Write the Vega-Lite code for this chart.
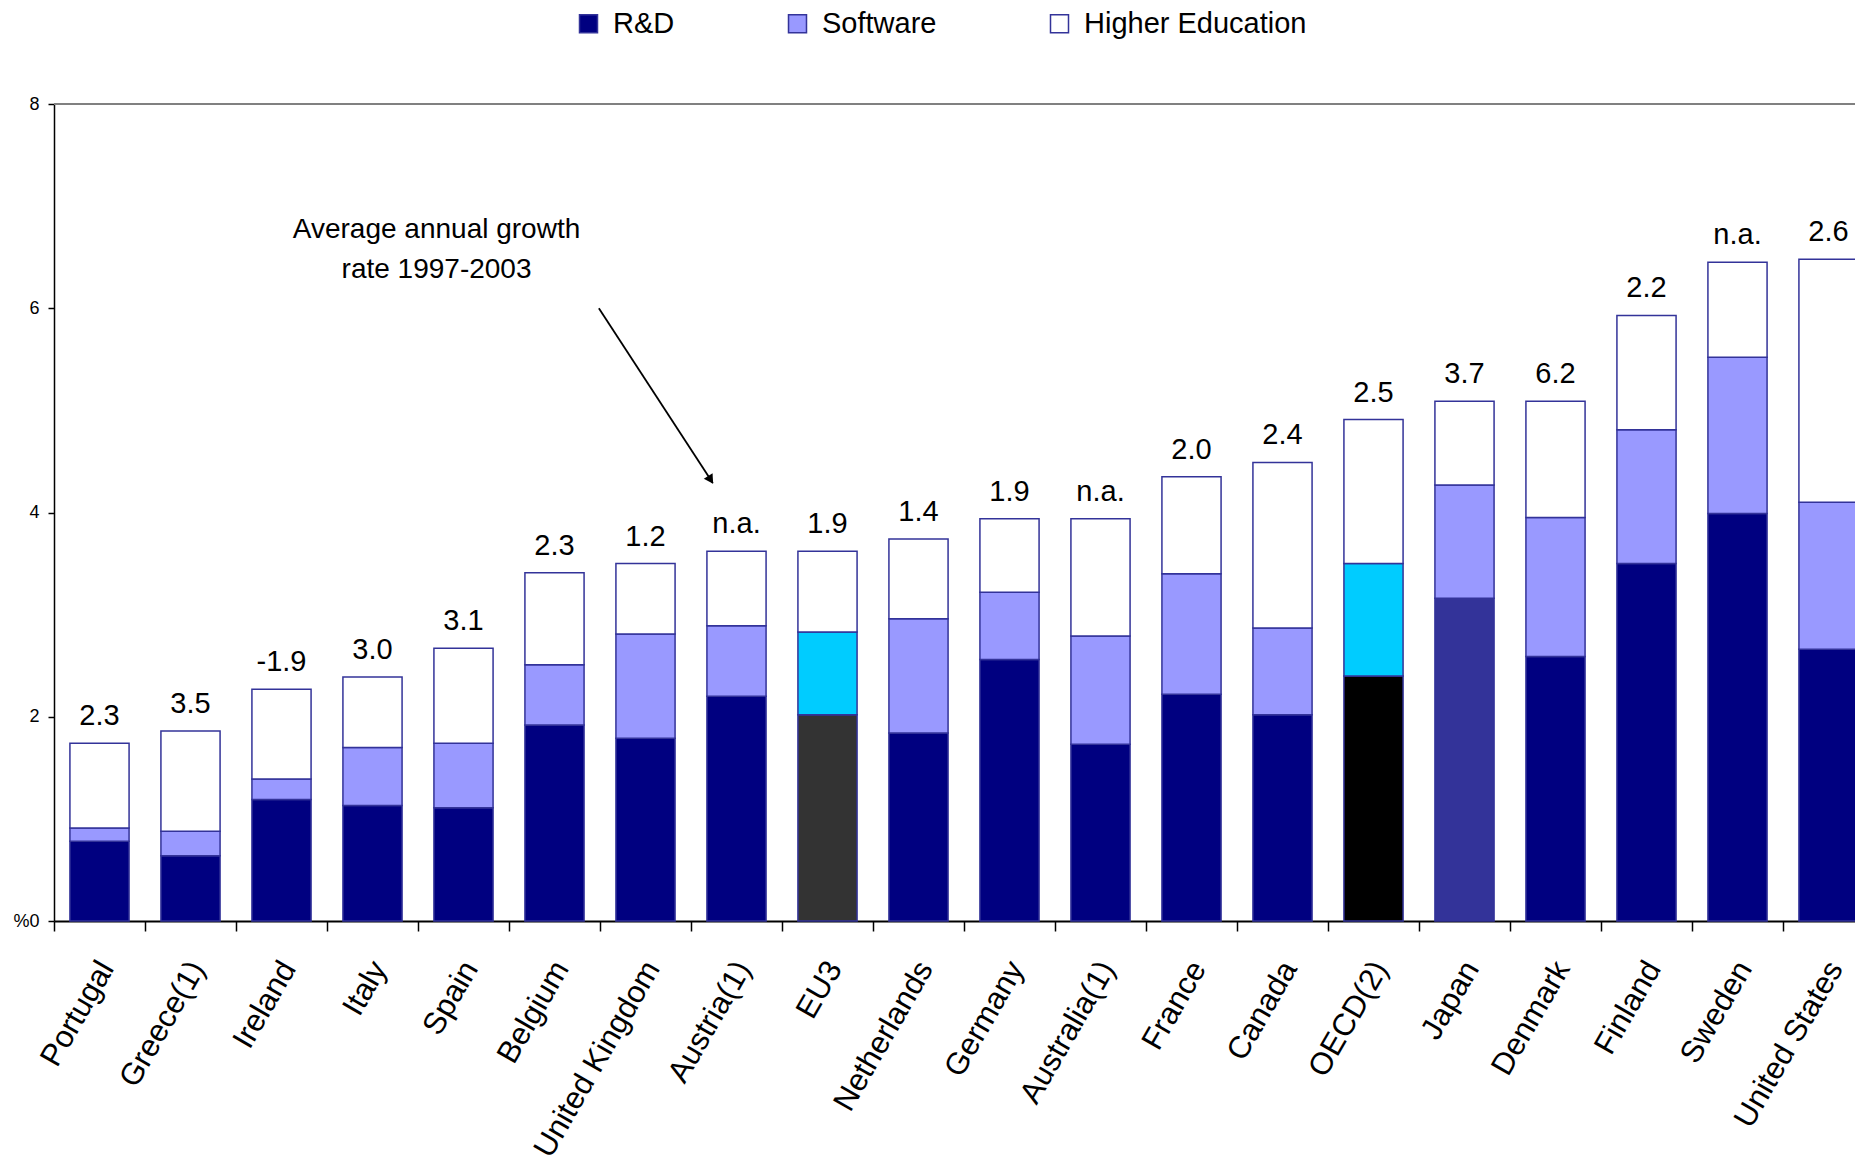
{
  "$schema": "https://vega.github.io/schema/vega-lite/v6.json",
  "autosize": {"type": "none"},
  "padding": {"left": 54, "top": 104, "right": 0, "bottom": 248},
  "width": 1801,
  "height": 817,
  "background": "white",
  "config": {
    "font": "Liberation Sans",
    "view": {"stroke": null},
    "text": {"font": "Liberation Sans"}
  },
  "datasets": {
    "shares": [
      {"country": "Portugal", "component": "R&D", "value": 0.78},
      {"country": "Portugal", "component": "Software", "value": 0.13},
      {"country": "Portugal", "component": "Higher Education", "value": 0.83},
      {"country": "Greece(1)", "component": "R&D", "value": 0.64},
      {"country": "Greece(1)", "component": "Software", "value": 0.24},
      {"country": "Greece(1)", "component": "Higher Education", "value": 0.98},
      {"country": "Ireland", "component": "R&D", "value": 1.19},
      {"country": "Ireland", "component": "Software", "value": 0.20},
      {"country": "Ireland", "component": "Higher Education", "value": 0.88},
      {"country": "Italy", "component": "R&D", "value": 1.13},
      {"country": "Italy", "component": "Software", "value": 0.57},
      {"country": "Italy", "component": "Higher Education", "value": 0.69},
      {"country": "Spain", "component": "R&D", "value": 1.11},
      {"country": "Spain", "component": "Software", "value": 0.63},
      {"country": "Spain", "component": "Higher Education", "value": 0.93},
      {"country": "Belgium", "component": "R&D", "value": 1.92},
      {"country": "Belgium", "component": "Software", "value": 0.59},
      {"country": "Belgium", "component": "Higher Education", "value": 0.90},
      {"country": "United Kingdom", "component": "R&D", "value": 1.79},
      {"country": "United Kingdom", "component": "Software", "value": 1.02},
      {"country": "United Kingdom", "component": "Higher Education", "value": 0.69},
      {"country": "Austria(1)", "component": "R&D", "value": 2.20},
      {"country": "Austria(1)", "component": "Software", "value": 0.69},
      {"country": "Austria(1)", "component": "Higher Education", "value": 0.73},
      {"country": "EU3", "component": "R&D", "value": 2.02},
      {"country": "EU3", "component": "Software", "value": 0.81},
      {"country": "EU3", "component": "Higher Education", "value": 0.79},
      {"country": "Netherlands", "component": "R&D", "value": 1.84},
      {"country": "Netherlands", "component": "Software", "value": 1.12},
      {"country": "Netherlands", "component": "Higher Education", "value": 0.78},
      {"country": "Germany", "component": "R&D", "value": 2.56},
      {"country": "Germany", "component": "Software", "value": 0.66},
      {"country": "Germany", "component": "Higher Education", "value": 0.72},
      {"country": "Australia(1)", "component": "R&D", "value": 1.73},
      {"country": "Australia(1)", "component": "Software", "value": 1.06},
      {"country": "Australia(1)", "component": "Higher Education", "value": 1.15},
      {"country": "France", "component": "R&D", "value": 2.22},
      {"country": "France", "component": "Software", "value": 1.18},
      {"country": "France", "component": "Higher Education", "value": 0.95},
      {"country": "Canada", "component": "R&D", "value": 2.02},
      {"country": "Canada", "component": "Software", "value": 0.85},
      {"country": "Canada", "component": "Higher Education", "value": 1.62},
      {"country": "OECD(2)", "component": "R&D", "value": 2.40},
      {"country": "OECD(2)", "component": "Software", "value": 1.10},
      {"country": "OECD(2)", "component": "Higher Education", "value": 1.41},
      {"country": "Japan", "component": "R&D", "value": 3.16},
      {"country": "Japan", "component": "Software", "value": 1.11},
      {"country": "Japan", "component": "Higher Education", "value": 0.82},
      {"country": "Denmark", "component": "R&D", "value": 2.59},
      {"country": "Denmark", "component": "Software", "value": 1.36},
      {"country": "Denmark", "component": "Higher Education", "value": 1.14},
      {"country": "Finland", "component": "R&D", "value": 3.50},
      {"country": "Finland", "component": "Software", "value": 1.31},
      {"country": "Finland", "component": "Higher Education", "value": 1.12},
      {"country": "Sweden", "component": "R&D", "value": 3.99},
      {"country": "Sweden", "component": "Software", "value": 1.53},
      {"country": "Sweden", "component": "Higher Education", "value": 0.93},
      {"country": "United States", "component": "R&D", "value": 2.66},
      {"country": "United States", "component": "Software", "value": 1.44},
      {"country": "United States", "component": "Higher Education", "value": 2.38}
    ],
    "components": [
      {"component": "R&D", "layer": 1},
      {"component": "Software", "layer": 2},
      {"component": "Higher Education", "layer": 3}
    ],
    "growth": [
      {"country": "Portugal", "growth": "2.3"},
      {"country": "Greece(1)", "growth": "3.5"},
      {"country": "Ireland", "growth": "-1.9"},
      {"country": "Italy", "growth": "3.0"},
      {"country": "Spain", "growth": "3.1"},
      {"country": "Belgium", "growth": "2.3"},
      {"country": "United Kingdom", "growth": "1.2"},
      {"country": "Austria(1)", "growth": "n.a."},
      {"country": "EU3", "growth": "1.9"},
      {"country": "Netherlands", "growth": "1.4"},
      {"country": "Germany", "growth": "1.9"},
      {"country": "Australia(1)", "growth": "n.a."},
      {"country": "France", "growth": "2.0"},
      {"country": "Canada", "growth": "2.4"},
      {"country": "OECD(2)", "growth": "2.5"},
      {"country": "Japan", "growth": "3.7"},
      {"country": "Denmark", "growth": "6.2"},
      {"country": "Finland", "growth": "2.2"},
      {"country": "Sweden", "growth": "n.a."},
      {"country": "United States", "growth": "2.6"}
    ]
  },
  "layer": [
    {
      "data": {"name": "shares"},
      "transform": [
        {"lookup": "component", "from": {"data": {"name": "components"}, "key": "component", "fields": ["layer"]}}
      ],
      "mark": {"type": "bar", "stroke": "#333399", "strokeWidth": 1.5},
      "encoding": {
        "x": {
          "field": "country",
          "type": "nominal",
          "scale": {
            "domain": ["Portugal", "Greece(1)", "Ireland", "Italy", "Spain", "Belgium", "United Kingdom", "Austria(1)", "EU3", "Netherlands", "Germany", "Australia(1)", "France", "Canada", "OECD(2)", "Japan", "Denmark", "Finland", "Sweden", "United States"],
            "range": [0, 1820],
            "paddingInner": 0.35,
            "paddingOuter": 0.175
          },
          "axis": {
            "title": null,
            "domainColor": "#000000",
            "domainWidth": 2,
            "tickColor": "#000000",
            "tickWidth": 1.5,
            "tickSize": 10,
            "tickOffset": -45.5,
            "labelAngle": -60,
            "labelAlign": "right",
            "labelBaseline": "top",
            "labelPadding": 25,
            "labelOffset": 39.5,
            "labelFontSize": 31,
            "labelFont": "Liberation Sans",
            "labelColor": "#000000",
            "labelLimit": 0,
            "labelOverlap": false
          }
        },
        "y": {
          "field": "value",
          "type": "quantitative",
          "stack": "zero",
          "scale": {"domain": [0, 8], "nice": false},
          "axis": {
            "title": null,
            "values": [0, 2, 4, 6, 8],
            "format": "d",
            "labelExpr": "datum.value === 0 ? '%0' : datum.label",
            "grid": false,
            "domainColor": "#000000",
            "domainWidth": 1.5,
            "tickColor": "#000000",
            "tickWidth": 1.5,
            "tickSize": 6,
            "labelPadding": 9,
            "labelFontSize": 18,
            "labelFont": "Liberation Sans",
            "labelColor": "#000000"
          }
        },
        "order": {"field": "layer", "type": "quantitative", "sort": "ascending"},
        "color": {
          "field": "component",
          "type": "nominal",
          "scale": {
            "domain": ["R&D", "Software", "Higher Education"],
            "range": ["#000080", "#9999FF", "#FFFFFF"]
          },
          "condition": [
            {"test": "datum.country === 'EU3' && datum.component === 'R&D'", "value": "#333333"},
            {"test": "datum.country === 'OECD(2)' && datum.component === 'R&D'", "value": "#000000"},
            {"test": "(datum.country === 'EU3' || datum.country === 'OECD(2)') && datum.component === 'Software'", "value": "#00CCFF"},
            {"test": "datum.country === 'Japan' && datum.component === 'R&D'", "value": "#333399"}
          ],
          "legend": {
            "title": null,
            "orient": "none",
            "direction": "horizontal",
            "legendX": 520,
            "legendY": -95,
            "padding": 0,
            "columnPadding": 108,
            "symbolType": "square",
            "symbolSize": 324,
            "symbolStrokeColor": "#333399",
            "symbolStrokeWidth": 1.5,
            "labelFontSize": 29,
            "labelFont": "Liberation Sans",
            "labelColor": "#000000",
            "labelOffset": 10,
            "labelLimit": 0
          }
        }
      }
    },
    {
      "data": {"name": "shares"},
      "transform": [
        {"aggregate": [{"op": "sum", "field": "value", "as": "total"}], "groupby": ["country"]},
        {"lookup": "country", "from": {"data": {"name": "growth"}, "key": "country", "fields": ["growth"]}}
      ],
      "mark": {"type": "text", "fontSize": 29, "font": "Liberation Sans", "color": "#000000", "baseline": "alphabetic", "align": "center", "dy": -18},
      "encoding": {
        "x": {"field": "country", "type": "nominal"},
        "y": {"field": "total", "type": "quantitative"},
        "text": {"field": "growth", "type": "nominal"}
      }
    },
    {
      "data": {"values": [{}]},
      "mark": {"type": "rule", "color": "#808080", "strokeWidth": 2},
      "encoding": {"y": {"datum": 8, "type": "quantitative"}}
    },
    {
      "data": {"values": [{}]},
      "mark": {"type": "text", "text": ["Average annual growth", "rate 1997-2003"], "fontSize": 28, "font": "Liberation Sans", "color": "#000000", "align": "center", "baseline": "alphabetic", "lineHeight": 40},
      "encoding": {
        "x": {"datum": "Spain", "type": "nominal", "bandPosition": 0.044},
        "y": {"datum": 6.69, "type": "quantitative"}
      }
    },
    {
      "data": {"values": [{}]},
      "mark": {"type": "rule", "color": "#000000", "strokeWidth": 1.8},
      "encoding": {
        "x": {"datum": "Belgium", "type": "nominal", "bandPosition": 1.25},
        "x2": {"datum": "Austria(1)", "bandPosition": 0.1},
        "y": {"datum": 6.0, "type": "quantitative"},
        "y2": {"datum": 4.29}
      }
    },
    {
      "data": {"values": [{}]},
      "mark": {"type": "point", "shape": "triangle-up", "filled": true, "color": "#000000", "size": 110, "angle": 147, "opacity": 1},
      "encoding": {
        "x": {"datum": "Austria(1)", "type": "nominal", "bandPosition": 0.063},
        "y": {"datum": 4.32, "type": "quantitative"}
      }
    }
  ]
}
